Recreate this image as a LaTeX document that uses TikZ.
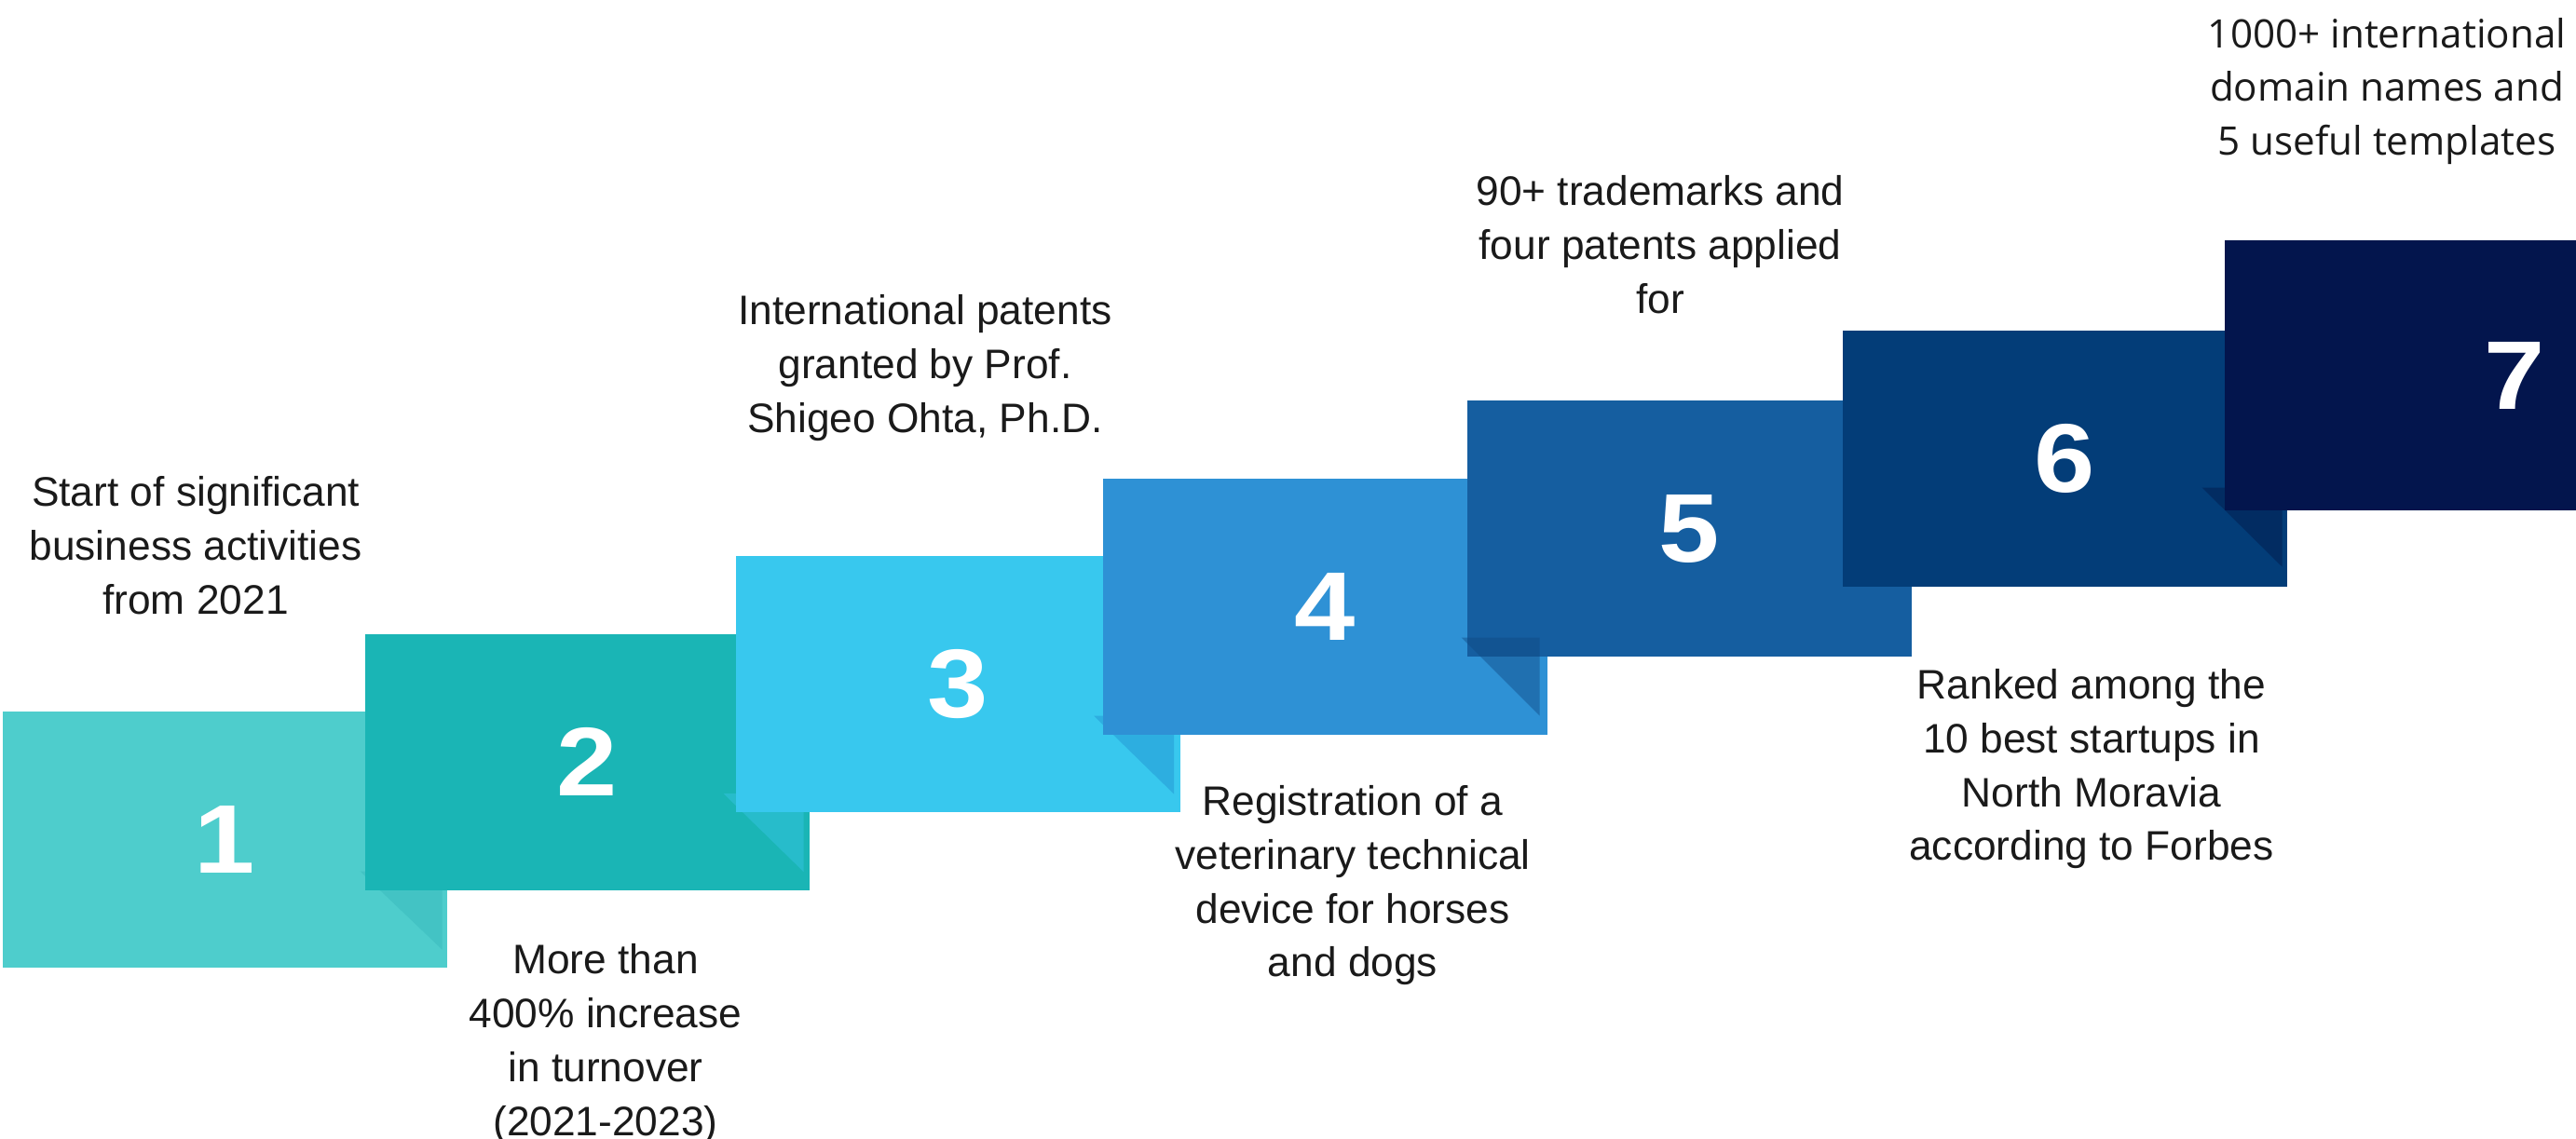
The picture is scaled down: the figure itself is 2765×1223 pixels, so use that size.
\documentclass[tikz,border=0pt]{standalone}
\usepackage{fontspec}
\setmainfont{Liberation Sans}
\newfontfamily\sevenfont{Open Sans}
\newfontfamily\numfont[FakeStretch=1.12]{Liberation Sans Bold}
\definecolor{cA}{HTML}{4ECDCC}
\definecolor{cB}{HTML}{1AB5B5}
\definecolor{cC}{HTML}{38C8EE}
\definecolor{cD}{HTML}{2E91D5}
\definecolor{cE}{HTML}{155EA0}
\definecolor{cF}{HTML}{033D78}
\definecolor{cG}{HTML}{03154D}
\definecolor{fA}{HTML}{43C3C4}
\definecolor{fB}{HTML}{27BCCB}
\definecolor{fC}{HTML}{2DAEE0}
\definecolor{fD}{HTML}{0F4883}
\definecolor{fF}{HTML}{022C62}
\definecolor{txt}{HTML}{1A1A1A}
\begin{document}
\begin{tikzpicture}[x=0.1mm,y=-0.1mm,
  stepbox/.style={rectangle, inner sep=0pt, minimum width=47.7mm, minimum height=27.5mm,
    text=white, font=\numfont\fontsize{29.8}{30}\selectfont},
  labtext/.style={anchor=north, inner sep=0pt, align=center, text=txt,
    font=\fontsize{12.6}{16.45}\selectfont},
  labseven/.style={anchor=north, inner sep=0pt, align=center, text=txt,
    font=\sevenfont\fontsize{12}{16.3}\selectfont}]
\useasboundingbox (0,0) rectangle (2765,1223);
\clip (0,0) rectangle (2765,1223);

% boxes and folds
\node[stepbox, fill=cA] (b1) at (241.5,901.5) {1};
\fill[fA] (b1.south east) ++(-94,-104) -- ++(88,0) -- ++(0,84) -- cycle;
\node[stepbox, fill=cB] (b2) at (630.5,818) {2};
\fill[fB] (b2.south east) ++(-93,-104) -- ++(86,0) -- ++(0,84) -- cycle;
\node[stepbox, fill=cC] (b3) at (1028,734.5) {3};
\fill[fC] (b3.south east) ++(-93,-104) -- ++(86,0) -- ++(0,84) -- cycle;
\node[stepbox, fill=cD] (b4) at (1422.5,651.5) {4};
\node[stepbox, fill=cE] (b5) at (1813.5,567.5) {5};
\fill[fD, fill opacity=0.45] (b4.south east) ++(-93,-105) -- ++(84,0) -- ++(0,84) -- cycle;
\node[stepbox, fill=cF] (b6) at (2216.5,492.5) {6};
\fill[fF] (b6.south east) ++(-92,-107) -- ++(86,0) -- ++(0,85) -- cycle;
\node[stepbox, fill=cG, minimum width=62.2mm, minimum height=29mm] (b7) at (2699,403) {7};

% labels
\node[labtext] (l1) at (210,507.7) {\rule{0pt}{10pt}Start of significant\\business activities\\from 2021};
\node[labtext] (l2) at (650,1009.7) {\rule{0pt}{10pt}More than\\400\% increase\\in turnover\\(2021-2023)};
\node[labtext] (l3) at (993,312.7) {\rule{0pt}{10pt}International patents\\granted by Prof.\\Shigeo Ohta, Ph.D.};
\node[labtext] (l4) at (1452,839.7) {\rule{0pt}{10pt}Registration of a\\veterinary technical\\device for horses\\and dogs};
\node[labtext] (l5) at (1782,184.7) {\rule{0pt}{10pt}90+ trademarks and\\four patents applied\\for};
\node[labtext] (l6) at (2245,714.7) {\rule{0pt}{10pt}Ranked among the\\10 best startups in\\North Moravia\\according to Forbes};
\node[labseven] (l7) at (2562,15.7) {\rule{0pt}{10pt}1000+ international\\domain names and\\5 useful templates};
\end{tikzpicture}
\end{document}
